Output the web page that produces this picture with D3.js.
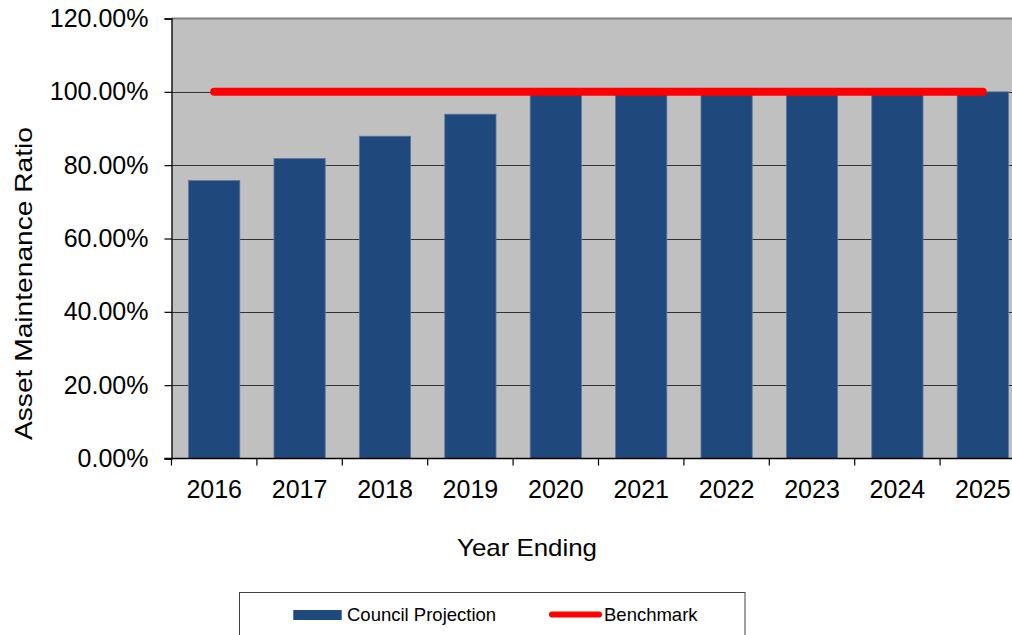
<!DOCTYPE html>
<html>
<head>
<meta charset="utf-8">
<script src="https://cdn.jsdelivr.net/npm/d3@7"></script>
<style>
  html, body { margin: 0; padding: 0; background: #fff; }
  svg { display: block; font-family: "Liberation Sans", Arial, sans-serif; }
</style>
</head>
<body>
<svg id="chart" width="1012" height="635"></svg>
<script>
// ---- data ----
const years = ["2016","2017","2018","2019","2020","2021","2022","2023","2024","2025"];
const councilProjection = [75.8, 81.8, 87.9, 93.9, 100, 100, 100, 100, 100, 100];
const benchmark = [100, 100, 100, 100, 100, 100, 100, 100, 100, 100];
const yTicks = [0, 20, 40, 60, 80, 100, 120];
const seriesNames = ["Council Projection", "Benchmark"];

// ---- layout ----
const svg = d3.select("#chart");
const plot = { left: 171.5, right: 1025.5, top: 18.5, bottom: 458.5 };

const x = d3.scaleBand().domain(years).range([plot.left, plot.right])
  .paddingInner(0.4).paddingOuter(0.2);
const y = d3.scaleLinear().domain([0, 120]).range([plot.bottom, plot.top]);

// plot background
svg.append("rect")
  .attr("x", plot.left).attr("y", plot.top)
  .attr("width", plot.right - plot.left).attr("height", plot.bottom - plot.top)
  .attr("fill", "#C0C0C0");

// top border
svg.append("line")
  .attr("x1", plot.left).attr("x2", plot.right)
  .attr("y1", plot.top).attr("y2", plot.top)
  .attr("stroke", "#808080").attr("stroke-width", 2);

// gridlines
svg.append("g").selectAll("line").data(yTicks.filter(d => d > 0 && d < 120)).join("line")
  .attr("x1", plot.left).attr("x2", plot.right)
  .attr("y1", d => Math.round(y(d)) + 0.5).attr("y2", d => Math.round(y(d)) + 0.5)
  .attr("stroke", "#333").attr("stroke-width", 1.2);

// bars
svg.append("g").selectAll("rect").data(years).join("rect")
  .attr("x", (d) => x(d))
  .attr("y", (d, i) => y(councilProjection[i]))
  .attr("width", x.bandwidth())
  .attr("height", (d, i) => y(0) - y(councilProjection[i]))
  .attr("fill", "#1F497D")
  .attr("stroke", "#5b769c").attr("stroke-width", 0.8);

// benchmark line
const line = d3.line().x((d, i) => x(years[i]) + x.bandwidth() / 2).y(d => y(d));
svg.append("path").datum(benchmark)
  .attr("d", line)
  .attr("fill", "none").attr("stroke", "#FF0000")
  .attr("stroke-width", 8).attr("stroke-linecap", "round");

// y axis
const yAxis = d3.axisLeft(y).tickValues(yTicks).tickSize(7).tickPadding(16)
  .tickFormat(d => d.toFixed(2) + "%");
const gy = svg.append("g").attr("transform", `translate(${plot.left},0)`).call(yAxis);
gy.select(".domain").attr("stroke", "#000").attr("stroke-width", 1.3);
gy.selectAll(".tick line").attr("stroke", "#000").attr("stroke-width", 1.2);
gy.selectAll(".tick text").attr("font-size", 25).attr("fill", "#000")
  .attr("font-family", "Liberation Sans, Arial, sans-serif");

// x axis line
svg.append("line")
  .attr("x1", plot.left - 7).attr("x2", plot.right)
  .attr("y1", plot.bottom).attr("y2", plot.bottom)
  .attr("stroke", "#000").attr("stroke-width", 1.3);

// x boundary ticks
const step = x.step();
svg.append("g").selectAll("line").data(years).join("line")
  .attr("x1", d => x(d) + x.bandwidth() / 2 - step / 2)
  .attr("x2", d => x(d) + x.bandwidth() / 2 - step / 2)
  .attr("y1", plot.bottom).attr("y2", plot.bottom + 7)
  .attr("stroke", "#000").attr("stroke-width", 1.2);

// x labels
const xAxis = d3.axisBottom(x).tickSize(0).tickPadding(22);
const gx = svg.append("g").attr("transform", `translate(0,${plot.bottom})`).call(xAxis);
gx.select(".domain").remove();
gx.selectAll(".tick text").attr("font-size", 25).attr("fill", "#000")
  .attr("font-family", "Liberation Sans, Arial, sans-serif");

// axis titles
svg.append("text")
  .attr("x", 527).attr("y", 556)
  .attr("text-anchor", "middle").attr("font-size", 24).attr("fill", "#000")
  .attr("textLength", 140).attr("lengthAdjust", "spacingAndGlyphs")
  .text("Year Ending");
svg.append("text")
  .attr("transform", "translate(32,283.5) rotate(-90)")
  .attr("text-anchor", "middle").attr("font-size", 24).attr("fill", "#000")
  .attr("textLength", 313).attr("lengthAdjust", "spacingAndGlyphs")
  .text("Asset Maintenance Ratio");

// legend
const lg = svg.append("g");
lg.append("rect").attr("x", 239.5).attr("y", 592.5).attr("width", 505.5).attr("height", 60)
  .attr("fill", "#fff").attr("stroke", "#404040").attr("stroke-width", 1);
lg.append("rect").attr("x", 293.3).attr("y", 610).attr("width", 48.4).attr("height", 10)
  .attr("fill", "#1F497D");
lg.append("text").attr("x", 347).attr("y", 621).attr("font-size", 18.5).attr("fill", "#000")
  .text(seriesNames[0]);
lg.append("line").attr("x1", 552).attr("x2", 599).attr("y1", 614.5).attr("y2", 614.5)
  .attr("stroke", "#FF0000").attr("stroke-width", 6).attr("stroke-linecap", "round");
lg.append("text").attr("x", 604).attr("y", 621).attr("font-size", 18.5).attr("fill", "#000")
  .text(seriesNames[1]);
</script>
</body>
</html>
